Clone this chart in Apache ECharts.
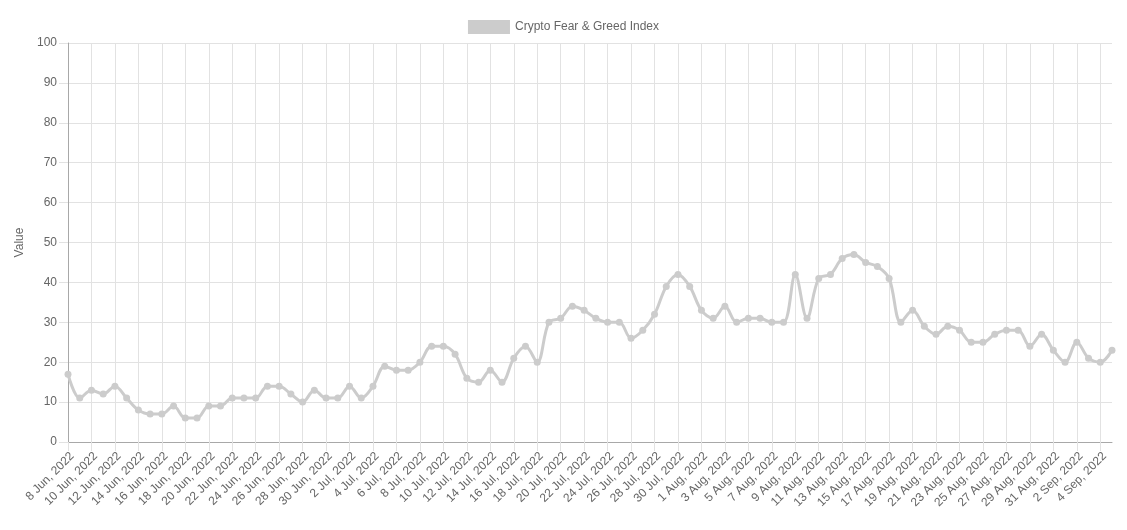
<!DOCTYPE html>
<html>
<head>
<meta charset="utf-8">
<script src="https://cdn.jsdelivr.net/npm/echarts@6/dist/echarts.min.js"></script>
<style>
html,body{margin:0;padding:0;background:#fff;}
#chart{width:1127px;height:530px;}
</style>
</head>
<body>
<div id="chart"></div>
<script>
const categories = [
"8 Jun, 2022","9 Jun, 2022","10 Jun, 2022","11 Jun, 2022","12 Jun, 2022","13 Jun, 2022","14 Jun, 2022","15 Jun, 2022","16 Jun, 2022","17 Jun, 2022",
"18 Jun, 2022","19 Jun, 2022","20 Jun, 2022","21 Jun, 2022","22 Jun, 2022","23 Jun, 2022","24 Jun, 2022","25 Jun, 2022","26 Jun, 2022","27 Jun, 2022",
"28 Jun, 2022","29 Jun, 2022","30 Jun, 2022",
"1 Jul, 2022","2 Jul, 2022","3 Jul, 2022","4 Jul, 2022","5 Jul, 2022","6 Jul, 2022","7 Jul, 2022","8 Jul, 2022","9 Jul, 2022","10 Jul, 2022",
"11 Jul, 2022","12 Jul, 2022","13 Jul, 2022","14 Jul, 2022","15 Jul, 2022","16 Jul, 2022","17 Jul, 2022","18 Jul, 2022","19 Jul, 2022","20 Jul, 2022",
"21 Jul, 2022","22 Jul, 2022","23 Jul, 2022","24 Jul, 2022","25 Jul, 2022","26 Jul, 2022","27 Jul, 2022","28 Jul, 2022","29 Jul, 2022","30 Jul, 2022","31 Jul, 2022",
"1 Aug, 2022","2 Aug, 2022","3 Aug, 2022","4 Aug, 2022","5 Aug, 2022","6 Aug, 2022","7 Aug, 2022","8 Aug, 2022","9 Aug, 2022","10 Aug, 2022",
"11 Aug, 2022","12 Aug, 2022","13 Aug, 2022","14 Aug, 2022","15 Aug, 2022","16 Aug, 2022","17 Aug, 2022","18 Aug, 2022","19 Aug, 2022","20 Aug, 2022",
"21 Aug, 2022","22 Aug, 2022","23 Aug, 2022","24 Aug, 2022","25 Aug, 2022","26 Aug, 2022","27 Aug, 2022","28 Aug, 2022","29 Aug, 2022","30 Aug, 2022","31 Aug, 2022",
"1 Sep, 2022","2 Sep, 2022","3 Sep, 2022","4 Sep, 2022","5 Sep, 2022"
];
const fearGreed = [
17,11,13,12,14,11,8,7,7,9,
6,6,9,9,11,11,11,14,14,12,
10,13,11,11,14,11,14,19,18,18,
20,24,24,22,16,15,18,15,21,24,
20,30,31,34,33,31,30,30,26,28,
32,39,42,39,33,31,34,30,31,31,
30,30,42,31,41,42,46,47,45,44,
41,30,33,29,27,29,28,25,25,27,
28,28,24,27,23,20,25,21,20,23
];
const seriesName = "Crypto Fear & Greed Index";
const yAxisName = "Value";

const FONT = "'Liberation Sans', Arial, Helvetica, sans-serif";
const chart = echarts.init(document.getElementById('chart'), null, {renderer: 'canvas'});
chart.setOption({
  animation: false,
  textStyle: {fontFamily: FONT},
  legend: {
    top: 15,
    left: 'center',
    itemWidth: 42,
    itemHeight: 14,
    itemGap: 10,
    icon: 'rect',
    textStyle: {color: '#666', fontSize: 12, fontFamily: FONT},
    data: [{name: seriesName, icon: 'rect', itemStyle: {color: 'rgba(204,204,204,1)'}}]
  },
  grid: {left: 68, right: 15, top: 43, bottom: 88, containLabel: false},
  xAxis: {
    type: 'category',
    data: categories,
    boundaryGap: false,
    axisLine: {show: true, lineStyle: {color: '#a8a8a8', width: 1}},
    axisTick: {show: true, interval: 1, length: 9, lineStyle: {color: '#e2e2e2'}},
    splitLine: {show: true, interval: 1, lineStyle: {color: '#e2e2e2', width: 1}},
    axisLabel: {interval: 1, rotate: 45, color: '#666', fontSize: 12, fontFamily: FONT, margin: 8, verticalAlign: 'top'}
  },
  yAxis: {
    type: 'value',
    min: 0, max: 100, interval: 10,
    name: yAxisName,
    nameLocation: 'middle',
    nameGap: 41,
    nameTextStyle: {color: '#666', fontSize: 12, fontFamily: FONT},
    axisLine: {show: true, lineStyle: {color: '#a8a8a8', width: 1}},
    axisTick: {show: true, length: 9, lineStyle: {color: '#e2e2e2'}},
    splitLine: {show: true, lineStyle: {color: '#e2e2e2', width: 1}},
    axisLabel: {color: '#666', fontSize: 12, fontFamily: FONT, margin: 11}
  },
  series: [{
    name: seriesName,
    type: 'line',
    data: fearGreed,
    smooth: 0.35,
    symbol: 'circle',
    symbolSize: 7,
    showSymbol: true,
    lineStyle: {color: '#cccccc', width: 3},
    itemStyle: {color: '#cccccc', borderWidth: 0}
  }]
});
</script>
</body>
</html>
